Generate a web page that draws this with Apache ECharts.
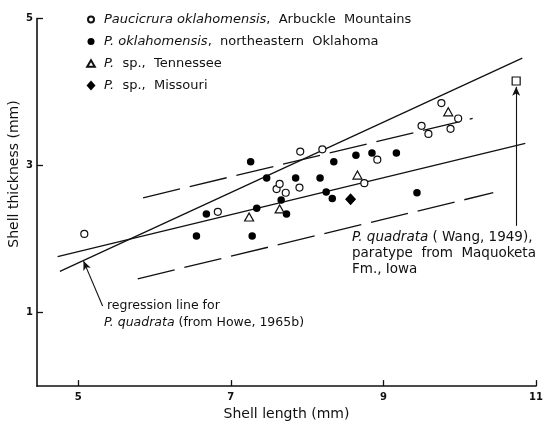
<!DOCTYPE html>
<html>
<head>
<meta charset="utf-8">
<script src="https://cdn.jsdelivr.net/npm/echarts@6/dist/echarts.min.js"></script>
<style>
  html, body { margin: 0; padding: 0; background: #fff; }
  #chart { width: 547px; height: 426px; }
</style>
</head>
<body>
<div id="chart"></div>
<script>
// Paucicrura shell measurements: [length mm, thickness mm]
const arbuckle = [
  [5.08, 2.07], [6.83, 2.37], [7.60, 2.68], [7.64, 2.75], [7.72, 2.63],
  [7.90, 2.70], [7.91, 3.19], [8.20, 3.22], [8.75, 2.76], [8.92, 3.08],
  [9.50, 3.54], [9.59, 3.43], [9.76, 3.85], [9.88, 3.50], [9.98, 3.64]
];
const neOklahoma = [
  [7.26, 3.05], [7.47, 2.83], [7.85, 2.83], [8.17, 2.83], [7.66, 2.53],
  [7.34, 2.42], [7.73, 2.34], [6.68, 2.34], [6.55, 2.04], [7.28, 2.04],
  [8.64, 3.14], [8.85, 3.17], [9.17, 3.17], [8.35, 3.05], [8.25, 2.64],
  [8.33, 2.55], [9.44, 2.63]
];
const tennessee = [[7.24, 2.30], [7.64, 2.41], [8.66, 2.87], [9.85, 3.73]];
const missouri = [[8.57, 2.54]];
const paratype = [[10.74, 4.15]];

// Fitted lines (end points)
const howeLine = [[4.76, 1.56], [10.82, 4.46]];
const fitLine = [[4.73, 1.76], [10.86, 3.30]];
const upperLimit = [[5.85, 2.56], [10.17, 3.64]];
const lowerLimit = [[5.78, 1.46], [10.44, 2.63]];

// Leader arrows: [from, to]
const howeArrow = [[5.32, 1.09], [5.07, 1.70]];
const paratypeArrow = [[10.74, 2.18], [10.74, 4.07]];

const xTicks = [5, 7, 9, 11];
const yTicks = [1, 3, 5];

const legendNames = [
  'Paucicrura oklahomensis, Arbuckle Mountains',
  'P. oklahomensis, northeastern Oklahoma',
  'P. sp., Tennessee',
  'P. sp., Missouri'
];
const legendText = {
  'Paucicrura oklahomensis, Arbuckle Mountains': '{i|Paucicrura oklahomensis},  Arbuckle  Mountains',
  'P. oklahomensis, northeastern Oklahoma': '{i|P. oklahomensis},  northeastern  Oklahoma',
  'P. sp., Tennessee': '{i|P.}  sp.,  Tennessee',
  'P. sp., Missouri': '{i|P.}  sp.,  Missouri'
};

// Legend icons in a common 10x10 box, so each keeps its own size
const legendIcons = [
  'path://M0,0M10,10M2,5A3,3,0,1,1,8,5A3,3,0,1,1,2,5Z',
  'path://M0,0M10,10M1.5,5A3.5,3.5,0,1,1,8.5,5A3.5,3.5,0,1,1,1.5,5Z',
  'path://M0,0M10,10M5,1.8L8.8,8.2L1.2,8.2Z',
  'path://M5,0L9.5,5L5,10L0.5,5Z'
];

const FONT = 'DejaVu Sans';
const INK = '#111';
const italic = (size) => ({ fontStyle: 'italic', fontFamily: FONT, fontSize: size, color: INK, fill: INK });

const lineSeries = (data, dashed) => ({
  type: 'line',
  data: data,
  symbol: 'none',
  silent: true,
  z: 1,
  lineStyle: { color: INK, width: 1.3, type: dashed ? [38, 10] : 'solid' }
});

const arrowLine = (pair) => ({
  type: 'line',
  data: [],
  silent: true,
  markLine: {
    silent: true,
    symbol: ['none', 'arrow'],
    symbolSize: [6, 9],
    label: { show: false },
    lineStyle: { color: INK, width: 1.1, type: 'solid' },
    data: [[{ coord: pair[0] }, { coord: pair[1] }]]
  }
});

const chart = echarts.init(document.getElementById('chart'));

chart.setOption({
  animation: false,
  backgroundColor: '#fff',
  textStyle: { fontFamily: FONT, color: INK },
  grid: { left: 37, right: 11, top: 18.5, bottom: 31.5, containLabel: false },
  legend: {
    data: legendNames.map((n, k) => ({ name: n, icon: legendIcons[k] })),
    orient: 'vertical',
    left: 80,
    top: 8,
    itemWidth: 10,
    itemHeight: 10,
    itemGap: 9,
    selectedMode: false,
    formatter: (name) => legendText[name],
    textStyle: {
      fontFamily: FONT,
      fontSize: 13,
      color: INK,
      padding: [0, 0, 0, 3],
      rich: { i: italic(13) }
    }
  },
  xAxis: {
    type: 'value',
    min: 4.46,
    max: 11,
    name: 'Shell length (mm)',
    nameLocation: 'middle',
    nameGap: 18,
    nameTextStyle: { fontFamily: FONT, fontSize: 14, color: INK },
    splitLine: { show: false },
    axisLine: { lineStyle: { color: INK, width: 1.6 } },
    axisTick: { inside: true, length: 6, customValues: xTicks, lineStyle: { color: INK, width: 1.3 } },
    axisLabel: { customValues: xTicks, fontSize: 10, fontWeight: 'bold', color: INK, margin: 6 }
  },
  yAxis: {
    type: 'value',
    min: 0,
    max: 5,
    splitLine: { show: false },
    axisLine: { lineStyle: { color: INK, width: 1.6 } },
    axisTick: { inside: true, length: 6, customValues: yTicks, lineStyle: { color: INK, width: 1.3 } },
    axisLabel: { customValues: yTicks, fontSize: 10, fontWeight: 'bold', color: INK, margin: 4 }
  },
  series: [
    lineSeries(howeLine, false),
    lineSeries(fitLine, false),
    lineSeries(upperLimit, true),
    lineSeries(lowerLimit, true),
    arrowLine(howeArrow),
    arrowLine(paratypeArrow),
    {
      name: legendNames[0],
      type: 'scatter',
      data: arbuckle,
      symbol: 'circle',
      symbolSize: 7,
      z: 5,
      itemStyle: { color: '#fff', borderColor: INK, borderWidth: 1.2, opacity: 1 }
    },
    {
      name: legendNames[1],
      type: 'scatter',
      data: neOklahoma,
      symbol: 'circle',
      symbolSize: 7.5,
      z: 5,
      itemStyle: { color: '#000', opacity: 1 }
    },
    {
      name: legendNames[2],
      type: 'scatter',
      data: tennessee,
      symbol: 'triangle',
      symbolSize: [9, 8],
      z: 5,
      itemStyle: { color: '#fff', borderColor: INK, borderWidth: 1.2, opacity: 1 }
    },
    {
      name: legendNames[3],
      type: 'scatter',
      data: missouri,
      symbol: 'diamond',
      symbolSize: [11, 12],
      z: 5,
      itemStyle: { color: '#000', opacity: 1 }
    },
    {
      name: 'paratype',
      type: 'scatter',
      data: paratype,
      symbol: 'rect',
      symbolSize: 8,
      clip: false,
      z: 6,
      itemStyle: { color: '#fff', borderColor: INK, borderWidth: 1.2, opacity: 1 }
    }
  ],
  graphic: [
    {
      type: 'text', x: 14, y: 174, rotation: Math.PI / 2, silent: true,
      style: {
        text: 'Shell thickness (mm)', font: '14px "DejaVu Sans"', fill: INK,
        align: 'center', verticalAlign: 'middle'
      }
    },
    {
      type: 'text', left: 107, top: 299, silent: true,
      style: { text: 'regression line for', font: '12.5px "DejaVu Sans"', fill: INK }
    },
    {
      type: 'text', left: 104, top: 316, silent: true,
      style: {
        text: '{i|P. quadrata} (from Howe, 1965b)',
        font: '12.5px "DejaVu Sans"', fill: INK,
        rich: { i: italic(12.5) }
      }
    },
    {
      type: 'text', left: 352, top: 230, silent: true,
      style: {
        text: '{i|P. quadrata} ( Wang, 1949),',
        font: '13.5px "DejaVu Sans"', fill: INK,
        rich: { i: italic(13.5) }
      }
    },
    {
      type: 'text', left: 352, top: 246, silent: true,
      style: { text: 'paratype  from  Maquoketa', font: '13.5px "DejaVu Sans"', fill: INK }
    },
    {
      type: 'text', left: 352, top: 262, silent: true,
      style: { text: 'Fm., Iowa', font: '13.5px "DejaVu Sans"', fill: INK }
    }
  ]
});
</script>
</body>
</html>
